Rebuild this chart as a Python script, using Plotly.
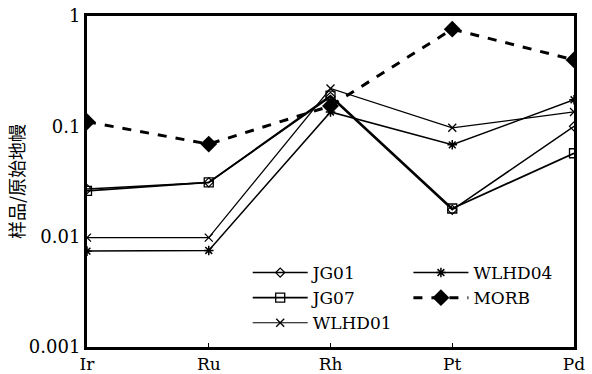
import plotly.graph_objects as go

elements = ["Ir", "Ru", "Rh", "Pt", "Pd"]
jg01 = [0.027, 0.031, 0.185, 0.0175, 0.10]
jg07 = [0.026, 0.031, 0.19, 0.018, 0.057]
wlhd01 = [0.0098, 0.0098, 0.22, 0.097, 0.135]
wlhd04 = [0.0074, 0.0075, 0.135, 0.068, 0.174]
morb = [0.11, 0.069, 0.153, 0.76, 0.40]
ytickvals = [0.001, 0.01, 0.1, 1]
yticktext = ["0.001", "0.01", "0.1", "1"]

serif = "DejaVu Serif"

fig = go.Figure()
fig.add_trace(go.Scatter(x=elements, y=jg01, name="JG01", mode="lines+markers",
                         line=dict(color="black", width=1.5),
                         marker=dict(symbol="diamond-open", size=7, color="black", line=dict(width=1.2)),
                         legend="legend"))
fig.add_trace(go.Scatter(x=elements, y=jg07, name="JG07", mode="lines+markers",
                         line=dict(color="black", width=1.8),
                         marker=dict(symbol="square-open", size=9, color="black", line=dict(width=1.3)),
                         legend="legend"))
fig.add_trace(go.Scatter(x=elements, y=wlhd01, name="WLHD01", mode="lines+markers",
                         line=dict(color="black", width=1.2),
                         marker=dict(symbol="x-thin", size=8, color="black", line=dict(width=1.3, color="black")),
                         legend="legend"))
fig.add_trace(go.Scatter(x=elements, y=wlhd04, name="WLHD04", mode="lines+markers",
                         line=dict(color="black", width=1.5),
                         marker=dict(symbol="asterisk-open", size=8, color="black", line=dict(width=1.5, color="black")),
                         legend="legend2"))
fig.add_trace(go.Scatter(x=elements, y=morb, name="MORB", mode="lines+markers",
                         line=dict(color="black", width=3, dash="dash"),
                         marker=dict(symbol="diamond", size=13, color="black"),
                         legend="legend2"))

legend_common = dict(font=dict(family=serif, size=17, color="black"), bgcolor="rgba(0,0,0,0)",
                     itemwidth=55, tracegroupgap=0, xanchor="left", yanchor="top")
fig.update_layout(
    width=592, height=374,
    margin=dict(l=87, r=18, t=16, b=27),
    paper_bgcolor="white", plot_bgcolor="white",
    font=dict(family=serif, size=17, color="black"),
    showlegend=True,
    legend=dict(x=0.33, y=0.278, **legend_common),
    legend2=dict(x=0.66, y=0.278, **legend_common),
    xaxis=dict(type="category", range=[0, 4], showgrid=False, zeroline=False, automargin=False,
               showline=True, linecolor="black", linewidth=3, mirror=True,
               ticks="inside", ticklen=4, tickcolor="black", ticklabeloverflow="allow",
               tickfont=dict(family=serif, size=17, color="black")),
    yaxis=dict(type="log", range=[-3, 0], showgrid=False, zeroline=False, automargin=False,
               showline=True, linecolor="black", linewidth=3, mirror=True,
               tickvals=ytickvals, ticktext=yticktext, ticks="", ticklabeloverflow="allow",
               tickfont=dict(family=serif, size=18, color="black"),
               title=dict(text="样品/原始地幔", font=dict(family="Noto Sans CJK SC", size=18, color="black"),
                          standoff=0)),
)
fig.write_html("out.html", post_script="document.body.style.margin='0px';",
               config={"displayModeBar": False})
